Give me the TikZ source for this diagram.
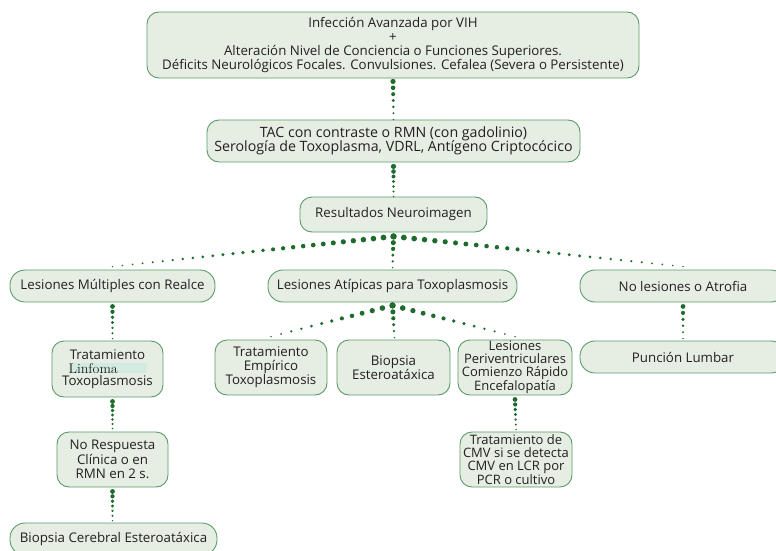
\documentclass[tikz,border=0pt]{standalone}
\usepackage{fontspec}
\setsansfont{Open Sans}
\usetikzlibrary{calc}
\definecolor{boxfill}{HTML}{E6EEE4}
\definecolor{boxline}{HTML}{5A9A6A}
\definecolor{dotc}{HTML}{1E6B2E}
\definecolor{hlc}{HTML}{D2EAE2}
\definecolor{txt}{HTML}{231F20}
\newcommand\dotlink[5]{% from, to, number of dots, start radius, end radius
  \foreach \i in {0,...,#3}{%
    \fill[dotc] ($(#1)!{\i/#3}!(#2)$) circle [radius={#4pt+(#5pt-#4pt)*\i/#3}];
  }%
}
\begin{document}
\begin{tikzpicture}[x=1pt,y=-1pt,
  box/.style={draw=boxline,line width=0.9pt,fill=boxfill,rounded corners=12pt,
    align=center,inner sep=0pt,text=txt,
    font=\sffamily\fontsize{13.3}{14.2}\selectfont},
  tight/.style={font=\sffamily\fontsize{13}{12.7}\selectfont}]
\useasboundingbox (0,0) rectangle (776,551);

\node[box,minimum width=492pt,minimum height=66pt] (top) at (393,45)
  {Infección Avanzada por VIH\\+\\Alteración Nivel de Conciencia o Funciones Superiores.\\Déficits Neurológicos Focales. Convulsiones. Cefalea (Severa o Persistente)};
\node[box,minimum width=373pt,minimum height=42pt,font=\sffamily\fontsize{14.2}{14.5}\selectfont] (tac) at (393.5,141)
  {TAC con contraste o RMN (con gadolinio)\\Serología de Toxoplasma, VDRL, Antígeno Criptocócico};
\node[box,minimum width=187pt,minimum height=35pt] (res) at (393.5,214.5)
  {Resultados Neuroimagen};

\node[box,minimum width=205pt,minimum height=32pt,rounded corners=15pt] (lm) at (112.5,286)
  {Lesiones Múltiples con Realce};
\node[box,minimum width=249pt,minimum height=32pt,rounded corners=15pt] (la) at (392.5,286)
  {Lesiones Atípicas para Toxoplasmosis};
\node[box,minimum width=206pt,minimum height=32pt,rounded corners=15pt] (nl) at (683,286)
  {No lesiones o Atrofia};

\node[box,minimum width=111pt,minimum height=56pt] (tl) at (107.5,369)
  {Tratamiento\\{\setlength\fboxsep{0pt}\colorbox{hlc}{\makebox[78pt][l]{\rmfamily\fontsize{14}{14}\selectfont Linfoma}}}\\[-2pt]Toxoplasmosis};
\node[box,minimum width=111pt,minimum height=55pt] (nr) at (112.5,459.5)
  {No Respuesta\\Clínica o en\\RMN en 2 s.};
\node[box,minimum width=207pt,minimum height=32pt,rounded corners=15pt] (bc) at (113.5,539)
  {Biopsia Cerebral Esteroatáxica};

\node[box,minimum width=112pt,minimum height=55pt] (te) at (271,367.5)
  {Tratamiento\\Empírico\\Toxoplasmosis};
\node[box,minimum width=113pt,minimum height=55pt] (be) at (393.5,367.5)
  {Biopsia\\Esteroatáxica};
\node[box,tight,minimum width=114pt,minimum height=55pt] (lp) at (515,367.5)
  {Lesiones\\Periventriculares\\Comienzo Rápido\\Encefalopatía};
\node[box,tight,minimum width=112pt,minimum height=55pt] (cmv) at (516,459.5)
  {Tratamiento de\\CMV si se detecta\\CMV en LCR por\\PCR o cultivo};
\node[box,minimum width=206pt,minimum height=32pt,rounded corners=15pt] (pl) at (683,357)
  {Punción Lumbar};

% connectors
\coordinate (hub) at ($(res.south)+(0,4)$);
\coordinate (hub2) at ($(la.south)+(0,3)$);
\dotlink{$(top.south)+(0,3)$}{tac.north}{6}{2.6}{0.8}
\dotlink{$(tac.south)+(0,4)$}{res.north}{6}{2.6}{0.8}
\dotlink{hub}{$(lm.north)+(0,-3)$}{28}{3.0}{0.8}
\dotlink{hub}{$(nl.north)+(0,-3)$}{28}{3.0}{0.8}
\dotlink{hub}{$(la.north)+(0,-2)$}{5}{3.0}{0.8}
\dotlink{$(lm.south)+(0,4)$}{$(lm.south |- tl.north)+(0,-2)$}{6}{2.4}{0.8}
\dotlink{$(tl.south)+(5,4)$}{$(tl.south -| nr.north)+(0,31)$}{6}{2.4}{0.8}
\dotlink{$(nr.south)+(0,4)$}{$(bc.north)+(-1,-2)$}{6}{2.4}{0.8}
\dotlink{hub2}{$(te.north)+(0,-3)$}{12}{3.0}{0.8}
\dotlink{hub2}{$(lp.north)+(0,-3)$}{12}{3.0}{0.8}
\dotlink{hub2}{$(be.north)+(1,-2)$}{5}{3.0}{0.8}
\dotlink{$(nl.south)+(0,4)$}{$(pl.north)+(0,-2)$}{5}{2.4}{0.8}
\dotlink{$(lp.south)+(0,4)$}{$(cmv.north)+(0,-2)$}{6}{2.4}{0.8}
\end{tikzpicture}
\end{document}
